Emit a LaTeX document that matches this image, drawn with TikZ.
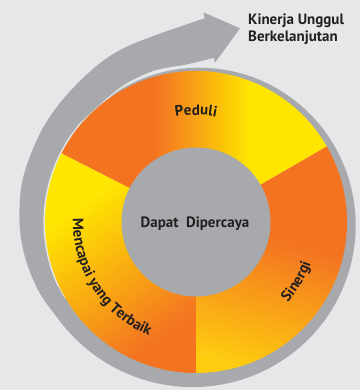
\documentclass[tikz,border=0pt]{standalone}
\usepackage{fontspec}
\setmainfont{PT Sans}
\usetikzlibrary{decorations.text}
\definecolor{bgc}{RGB}{230,231,232}
\definecolor{gry}{RGB}{167,169,172}
\definecolor{ora}{RGB}{243,115,33}
\definecolor{yel}{RGB}{255,230,0}
\definecolor{gold}{RGB}{254,203,14}
\definecolor{ink}{RGB}{35,31,32}
\newcommand{\lblfont}{\fontsize{15}{17}\selectfont\bfseries}
% gradient sector: start, end, gradient direction, a, b, colour at a, colour at b
\newcommand{\gsec}[7]{%
\begin{scope}
\clip (0,0) -- (#1:151) arc[start angle=#1, end angle=#2, radius=151] -- cycle;
\begin{scope}[transform canvas={rotate=#3-90}]
\fill[#6] (-400,-400) rectangle (400,#4);
\fill[#7] (-400,#5) rectangle (400,400);
\foreach \i in {0,...,63}{%
  \pgfmathsetmacro\pct{100*(\i+0.5)/64}%
  \fill[#7!\pct!#6] (-400,{#4+(#5-#4)*\i/64}) rectangle (400,{#4+(#5-#4)*(\i+1)/64+0.4});
}
\end{scope}
\end{scope}}
\begin{document}
\begin{tikzpicture}[x=1pt,y=1pt]
\useasboundingbox[fill=bgc] (-196,-168) rectangle (164,222);
% spiral ring behind the disk
\fill[gry] plot[domain=145:-150, samples=90, variable=\t] (\t:{151+0.06*(145-\t)}) -- (-150:140) arc[start angle=-150, end angle=145, radius=140] -- cycle;
% arrow
\fill[gry] plot[smooth, tension=0.55] coordinates {(220:168.1) (205:171.5) (192:174.5) (180:176.5) (166:178.5) (150:179.5) (137:181) (124:184.5) (-76,172) (-40,187) (8.7,203.7)}
 -- (7.3,209.7) -- (44,193.7) -- (19,159.3) -- (18,163.5)
 -- plot[smooth, tension=0.55] coordinates {(18,163.5) (-9,157) (-43,150.3) (120:153.5) (140:152)}
 arc[start angle=140, end angle=220, radius=152] -- cycle;
\draw[bgc, line width=1.1] plot[smooth, tension=0.55] coordinates {(18,163.5) (-9,157) (-43,150.3) (120:153.5) (140:152)} arc[start angle=140, end angle=205, radius=152];
% sectors
\gsec{30}{153}{0}{-40}{55}{ora}{yel}
\gsec{153}{270}{-54.5}{-79.5}{74.5}{yel}{ora}
\gsec{-90}{30}{75}{-125.5}{4.3}{gold}{ora}
% centre disk
\fill[gry] (0,0) circle[radius=74.5];
\node[font=\fontsize{15}{17}\selectfont\bfseries, text=ink, anchor=base, inner sep=0] (core) at (-1,-6) {Dapat\ \ Dipercaya};
% labels on the ring
\path[decorate, decoration={text along path, text={|\lblfont\color{ink}|Peduli}, text align=center}] (112:107) arc[start angle=112, end angle=68, radius=107];
\path[decorate, decoration={text along path, text={|\lblfont\color{ink}|Mencapai yang Terbaik}, text align=center}] (170:123) arc[start angle=170, end angle=256, radius=123];
\path[decorate, decoration={text along path, text={|\lblfont\color{ink}|Sinergi}, text align=center}] (-52:122) arc[start angle=-52, end angle=-9, radius=122];
% outcome label
\node[font=\fontsize{15}{17}\selectfont\bfseries, text=ink, anchor=base west, inner sep=0] (k1) at (52,197) {Kinerja Unggul};
\node[font=\fontsize{15}{17}\selectfont\bfseries, text=ink, anchor=base west, inner sep=0] (k2) at (52,180.3) {Berkelanjutan};
\end{tikzpicture}
\end{document}
